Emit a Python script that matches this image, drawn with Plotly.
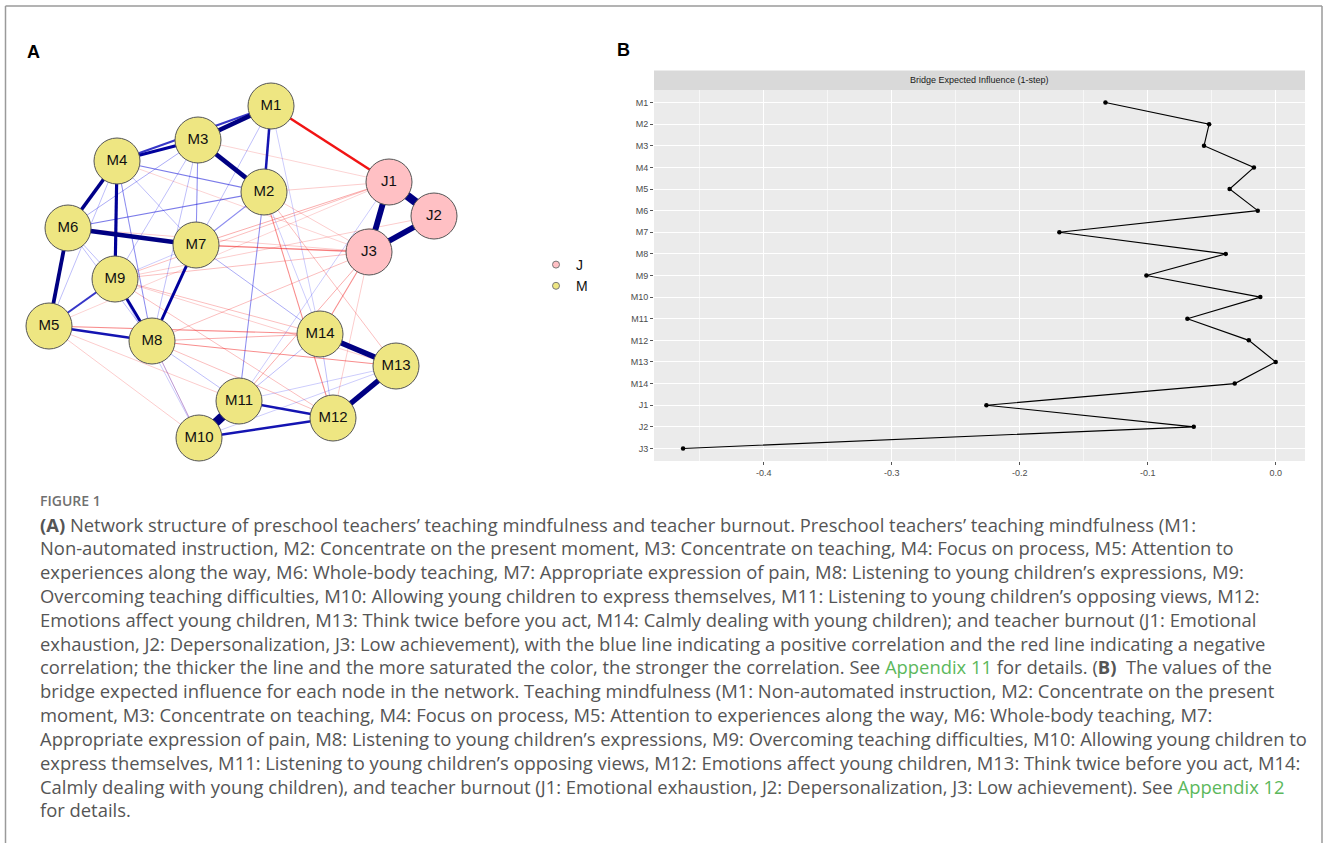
import plotly.graph_objects as go

W, H = 1328, 843

# ---------------- Panel A: network data ----------------
node_names = ["M1", "M2", "M3", "M4", "M5", "M6", "M7", "M8", "M9", "M10",
              "M11", "M12", "M13", "M14", "J1", "J2", "J3"]
node_group = ["M"] * 14 + ["J"] * 3
# layout coordinates (network layout units)
node_x = [271, 264, 198, 117, 49, 68, 196, 152, 115, 199, 239, 333, 396, 320, 389, 434, 369]
node_y = [106, 192, 140, 161, 326, 228, 245, 341, 279, 438, 401, 418, 366, 334, 182, 216, 252]

edge_from = ["J1", "M11", "J1", "J2", "M14", "M13", "M6", "M3", "M1", "M6",
             "M4", "M4", "M7", "M9", "M4", "M1", "M5", "M11", "M10", "M1",
             "M9", "M4", "M6", "M3", "M3", "M3", "M4", "M3", "M2", "M2",
             "M1", "M1", "M4", "M7", "M6", "M6", "M9", "M8", "M8", "M11",
             "M11", "M14", "M10", "J1", "M4", "M2", "M9",
             "M1", "M7", "M5", "M8", "M8", "M2", "M14", "M7", "M9", "M9",
             "M9", "M8", "M6", "M2", "M2", "M8", "M9", "M5", "M5",
             "M8", "M11", "M12", "M2", "M3", "M4", "M9", "M14", "M5"]
edge_to = ["J2", "M10", "J3", "J3", "M13", "M12", "M7", "M2", "M3", "M5",
           "M6", "M9", "M8", "M8", "M3", "M4", "M8", "M12", "M12", "M2",
           "M5", "M2", "M2", "M7", "M6", "M9", "M8", "M8", "M11", "M7",
           "M7", "M14", "M7", "M14", "M9", "M8", "M7", "M10", "M11", "M13",
           "M14", "M12", "M13", "M11", "M5", "M14", "M10",
           "J1", "J3", "M14", "M14", "M13", "M12", "J3", "J1", "J1", "J3",
           "J2", "J3", "J3", "J3", "M13", "M12", "M12", "M10", "M11",
           "M10", "J3", "J3", "J1", "J1", "J3", "M13", "M9", "J1"]
edge_weight = [0.40, 0.42, 0.28, 0.26, 0.26, 0.26, 0.22, 0.22, 0.22, 0.18,
               0.17, 0.15, 0.14, 0.14, 0.14, 0.10, 0.12, 0.12, 0.12, 0.12,
               0.10, 0.06, 0.06, 0.05, 0.04, 0.03, 0.05, 0.03, 0.05, 0.05,
               0.03, 0.02, 0.03, 0.04, 0.03, 0.03, 0.02, 0.03, 0.03, 0.02,
               0.03, 0.03, 0.02, 0.02, 0.03, 0.02, 0.02,
               -0.12, -0.06, -0.05, -0.04, -0.05, -0.05, -0.05, -0.04, -0.03, -0.03,
               -0.02, -0.03, -0.02, -0.02, -0.03, -0.03, -0.03, -0.02, -0.02,
               -0.02, -0.04, -0.02, -0.02, -0.015, -0.015, -0.02, -0.03, -0.015]

# ---------------- Panel B: bridge expected influence ----------------
bei_nodes = ["M1", "M2", "M3", "M4", "M5", "M6", "M7", "M8", "M9", "M10",
             "M11", "M12", "M13", "M14", "J1", "J2", "J3"]
bei_values = [-0.133, -0.052, -0.056, -0.017, -0.036, -0.014, -0.169, -0.039,
              -0.101, -0.012, -0.069, -0.021, 0.000, -0.032, -0.226, -0.064, -0.463]
bei_ticks = [-0.4, -0.3, -0.2, -0.1, 0.0]
bei_ticktext = ["-0.4", "-0.3", "-0.2", "-0.1", "0.0"]

GREEN = "#5cb85c"
caption_lines = [
    "<b>(A)</b> Network structure of preschool teachers’ teaching mindfulness and teacher burnout. Preschool teachers’ teaching mindfulness (M1:",
    "Non-automated instruction, M2: Concentrate on the present moment, M3: Concentrate on teaching, M4: Focus on process, M5: Attention to",
    "experiences along the way, M6: Whole-body teaching, M7: Appropriate expression of pain, M8: Listening to young children’s expressions, M9:",
    "Overcoming teaching difficulties, M10: Allowing young children to express themselves, M11: Listening to young children’s opposing views, M12:",
    "Emotions affect young children, M13: Think twice before you act, M14: Calmly dealing with young children); and teacher burnout (J1: Emotional",
    "exhaustion, J2: Depersonalization, J3: Low achievement), with the blue line indicating a positive correlation and the red line indicating a negative",
    f"correlation; the thicker the line and the more saturated the color, the stronger the correlation. See <span style='color:{GREEN}'>Appendix 11</span> for details. (<b>B)</b>  The values of the",
    "bridge expected influence for each node in the network. Teaching mindfulness (M1: Non-automated instruction, M2: Concentrate on the present",
    "moment, M3: Concentrate on teaching, M4: Focus on process, M5: Attention to experiences along the way, M6: Whole-body teaching, M7:",
    "Appropriate expression of pain, M8: Listening to young children’s expressions, M9: Overcoming teaching difficulties, M10: Allowing young children to",
    "express themselves, M11: Listening to young children’s opposing views, M12: Emotions affect young children, M13: Think twice before you act, M14:",
    f"Calmly dealing with young children), and teacher burnout (J1: Emotional exhaustion, J2: Depersonalization, J3: Low achievement). See <span style='color:{GREEN}'>Appendix 12</span>",
    "for details.",
]

fig = go.Figure()

# ---- edges ----
wmax = 0.45
pos = {n: (x, y) for n, x, y in zip(node_names, node_x, node_y)}
order = sorted(range(len(edge_weight)), key=lambda i: abs(edge_weight[i]))
for i in order:
    w = edge_weight[i]
    t = min(1.0, abs(w) / wmax)
    alpha = min(1.0, 0.12 + 3.0 * t)
    if w > 0:
        b = int(255 - 125 * min(1.0, t * 2.5))
        col = f"rgba(0,0,{b},{alpha:.2f})"
    else:
        col = f"rgba(240,0,0,{alpha:.2f})"
    width = max(0.8, 9.5 * t)
    x0, y0 = pos[edge_from[i]]
    x1, y1 = pos[edge_to[i]]
    fig.add_trace(go.Scatter(x=[x0, x1], y=[y0, y1], mode="lines",
                             line=dict(color=col, width=width),
                             hoverinfo="skip", showlegend=False,
                             xaxis="x", yaxis="y"))

# ---- nodes ----
group_fill = {"J": "#FFC0C4", "M": "#EEE682"}
for grp in ["J", "M"]:
    idx = [k for k, g in enumerate(node_group) if g == grp]
    fig.add_trace(go.Scatter(
        x=[node_x[k] for k in idx], y=[node_y[k] for k in idx],
        mode="markers+text", name=grp, showlegend=False,
        text=[node_names[k] for k in idx], textposition="middle center",
        textfont=dict(family="Arial", size=15, color="#111111"),
        marker=dict(size=46, color=group_fill[grp], line=dict(color="#555555", width=1)),
        hoverinfo="text", xaxis="x", yaxis="y"))
# legend keys
for grp in ["J", "M"]:
    fig.add_trace(go.Scatter(
        x=[None], y=[None], mode="markers", name=grp, showlegend=True,
        marker=dict(size=7, color=group_fill[grp], line=dict(color="#777777", width=1)),
        xaxis="x", yaxis="y"))

# ---- panel B line ----
fig.add_trace(go.Scatter(x=bei_values, y=bei_nodes, mode="lines+markers",
                         line=dict(color="black", width=1.1),
                         marker=dict(size=4.5, color="black"),
                         showlegend=False, xaxis="x2", yaxis="y2"))

bx0, bx1 = 654 / W, 1305 / W
by0, by1 = 1 - 461 / H, 1 - 90 / H
strip_top = 1 - 70.5 / H

fig.update_layout(
    width=W, height=H,
    margin=dict(l=0, r=0, t=0, b=0),
    paper_bgcolor="white", plot_bgcolor="white",
    xaxis=dict(domain=[0, 600 / W], range=[0, 600], visible=False, fixedrange=True),
    yaxis=dict(domain=[1 - 470 / H, 1], range=[470, 0], visible=False, fixedrange=True),
    xaxis2=dict(domain=[bx0, bx1], anchor="y2", range=[-0.4857, 0.0229],
                tickvals=bei_ticks, ticktext=bei_ticktext,
                showgrid=True, gridcolor="white", gridwidth=1.2, zeroline=False,
                ticks="outside", ticklen=3, tickcolor="#555555",
                tickfont=dict(family="Arial", size=9, color="#4D4D4D"),
                minor=dict(dtick=0.05, tick0=0, showgrid=True, gridcolor="#F7F7F7", gridwidth=0.6),
                showline=False),
    yaxis2=dict(domain=[by0, by1], anchor="x2", type="category",
                categoryorder="array", categoryarray=bei_nodes,
                range=[16.58, -0.58],
                showgrid=True, gridcolor="white", gridwidth=1.2, zeroline=False,
                ticks="outside", ticklen=3, tickcolor="#555555",
                tickfont=dict(family="Arial", size=9, color="#4D4D4D"),
                showline=False),
    legend=dict(x=536 / W, y=1 - 249 / H, xanchor="left", yanchor="top",
                font=dict(family="Arial", size=14, color="#111111"),
                bgcolor="rgba(0,0,0,0)", tracegroupgap=0, itemwidth=30),
    showlegend=True,
)

shapes = [
    dict(type="rect", xref="paper", yref="paper", x0=bx0, x1=bx1, y0=by0, y1=by1,
         fillcolor="#EBEBEB", line=dict(width=0), layer="below"),
    dict(type="rect", xref="paper", yref="paper", x0=bx0, x1=bx1, y0=by1, y1=strip_top,
         fillcolor="#D9D9D9", line=dict(width=0)),
    # outer frame (top, left, right)
    dict(type="line", xref="paper", yref="paper", x0=5.5 / W, x1=1322 / W, y0=1 - 6 / H, y1=1 - 6 / H,
         line=dict(color="#9A9A9A", width=1.5)),
    dict(type="line", xref="paper", yref="paper", x0=5.5 / W, x1=5.5 / W, y0=0, y1=1 - 6 / H,
         line=dict(color="#9A9A9A", width=1.5)),
    dict(type="line", xref="paper", yref="paper", x0=1322 / W, x1=1322 / W, y0=0, y1=1 - 6 / H,
         line=dict(color="#9A9A9A", width=1.5)),
]
fig.update_layout(shapes=shapes)

ann = [
    dict(text="<b>A</b>", x=33 / W, y=1 - 52 / H, font=dict(family="Arial", size=18, color="black")),
    dict(text="<b>B</b>", x=623 / W, y=1 - 50 / H, font=dict(family="Arial", size=18, color="black")),
    dict(text="Bridge Expected Influence (1-step)", x=(bx0 + bx1) / 2, y=1 - 80.5 / H,
         font=dict(family="Arial", size=9, color="#1A1A1A")),
]
for a in ann:
    a.update(xref="paper", yref="paper", showarrow=False, xanchor="center", yanchor="middle")

ann.append(dict(text="FIGURE 1", x=38 / W, y=1 - 500 / H, xref="paper", yref="paper",
                showarrow=False, xanchor="left", yanchor="middle",
                font=dict(family="Open Sans", size=14, color="#707070", weight=600)))
for k, line in enumerate(caption_lines):
    yy = 524 + k * 23.83
    ann.append(dict(text=line, x=38 / W, y=1 - yy / H, xref="paper", yref="paper",
                    showarrow=False, xanchor="left", yanchor="middle",
                    font=dict(family="Open Sans", size=18.4, color="#555555")))
fig.update_layout(annotations=ann)

fig.write_html("out.html", post_script="document.body.style.margin='0px';",
               config={"displayModeBar": False})
